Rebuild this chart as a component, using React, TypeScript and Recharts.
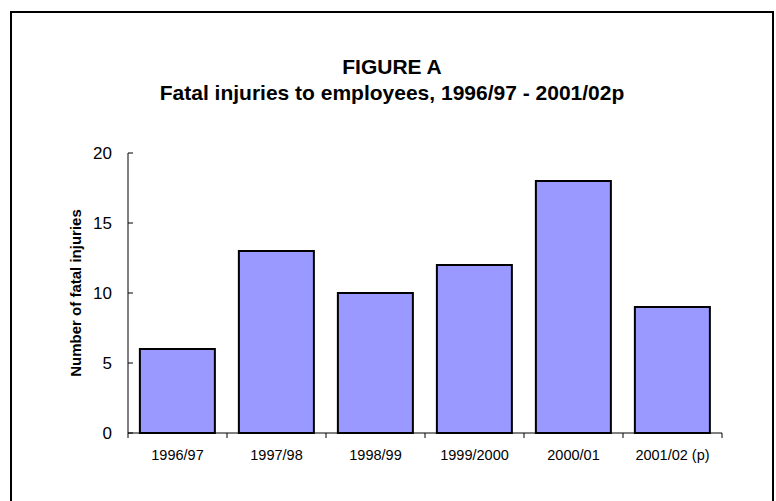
import React from 'react';
import { BarChart, Bar, XAxis, YAxis } from 'recharts';

const categories = ['1996/97', '1997/98', '1998/99', '1999/2000', '2000/01', '2001/02 (p)'];
const fatalInjuries = [6, 13, 10, 12, 18, 9];
const yTicks = [0, 5, 10, 15, 20];

const data = categories.map((c, i) => ({ category: c, value: fatalInjuries[i] }));

const W = 776;
const H = 501;
const M = { top: 153, right: 54, bottom: 38, left: 0 };
const Y_AXIS_W = 128;
const X_AXIS_H = 30;
const FONT = "Arial, 'Liberation Sans', Helvetica, sans-serif";
const bandW = (W - M.left - Y_AXIS_W - M.right) / categories.length;

function XTick(props: any) {
  const { x, y, payload, index } = props;
  return (
    <g>
      <text x={x} y={y + 27} textAnchor="middle" fontSize={14.5} fill="#000" fontFamily={FONT}>
        {payload.value}
      </text>
      <line x1={x - bandW / 2} x2={x - bandW / 2} y1={y} y2={y + 5} stroke="#000" strokeWidth={1} />
      {index === categories.length - 1 && (
        <line x1={x + bandW / 2} x2={x + bandW / 2} y1={y} y2={y + 5} stroke="#000" strokeWidth={1} />
      )}
    </g>
  );
}

function YTick(props: any) {
  const { x, y, payload } = props;
  return (
    <g>
      <text x={x} y={y} dy="0.35em" textAnchor="end" fontSize={17} fill="#000" fontFamily={FONT}>
        {payload.value}
      </text>
      <line x1={x + 16} x2={x + 21} y1={y} y2={y} stroke="#000" strokeWidth={1} />
    </g>
  );
}

export default function App() {
  return (
    <div style={{ position: 'absolute', left: 0, top: 0, width: W, height: H, overflow: 'hidden', background: '#fff' }}>
      <div
        style={{
          position: 'absolute',
          left: 10,
          top: 11,
          width: 764,
          height: 500,
          border: '2px solid #000',
          boxSizing: 'border-box',
        }}
      />
      <div style={{ position: 'absolute', left: 0, top: 0 }}>
        <BarChart width={W} height={H} data={data} margin={M} barCategoryGap="12%">
          <XAxis
            dataKey="category"
            height={X_AXIS_H}
            tickSize={0}
            tickMargin={0}
            tickLine={false}
            interval={0}
            tick={<XTick />}
            axisLine={{ stroke: '#000', strokeWidth: 1 }}
          />
          <YAxis
            width={Y_AXIS_W}
            domain={[0, 20]}
            ticks={yTicks}
            interval={0}
            tickSize={0}
            tickMargin={16}
            tickLine={false}
            tick={<YTick />}
            axisLine={{ stroke: '#000', strokeWidth: 1 }}
          />
          <Bar dataKey="value" fill="#9999FF" stroke="#000" strokeWidth={2} isAnimationActive={false} />
        </BarChart>
      </div>
      <svg width={W} height={H} style={{ position: 'absolute', left: 0, top: 0, pointerEvents: 'none' }}>
        <text x={392} y={74} textAnchor="middle" fontSize={21} fontWeight="bold" fontFamily={FONT} fill="#000">
          FIGURE A
        </text>
        <text x={392} y={100} textAnchor="middle" fontSize={21} fontWeight="bold" fontFamily={FONT} fill="#000">
          Fatal injuries to employees, 1996/97 - 2001/02p
        </text>
        <text
          x={75}
          y={293}
          transform="rotate(-90 75 293)"
          textAnchor="middle"
          dominantBaseline="central"
          fontSize={15}
          fontWeight="bold"
          fontFamily={FONT}
          fill="#000"
        >
          Number of fatal injuries
        </text>
      </svg>
    </div>
  );
}
